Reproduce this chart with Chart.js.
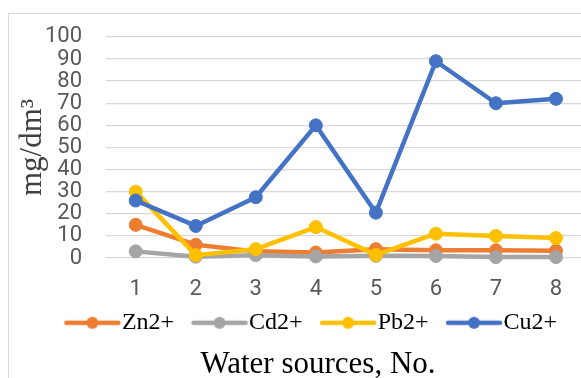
<!DOCTYPE html>
<html>
<head>
<meta charset="utf-8">
<script src="https://cdn.jsdelivr.net/npm/chart.js@4.4.1/dist/chart.umd.min.js"></script>
<style>
html,body{margin:0;padding:0;overflow:hidden;background:#fff;width:581px;height:378px}
#wrap{position:absolute;left:0;top:0;width:623px;height:383px}
</style>
</head>
<body>
<div id="wrap"><canvas id="c" width="623" height="383"></canvas></div>
<script>
// ---- data ----
const categories = ['1', '2', '3', '4', '5', '6', '7', '8'];
const seriesNames = ['Zn2+', 'Cd2+', 'Pb2+', 'Cu2+'];
const znValues = [15, 6, 3, 2.5, 4, 3.5, 3.5, 3.3];
const cdValues = [3, 0.6, 1.3, 0.7, 1, 0.9, 0.4, 0.4];
const pbValues = [30, 1.3, 4, 14, 1.4, 11, 10, 9];
const cuValues = [26, 14.5, 27.5, 60, 20.5, 89, 70, 72];
const yMin = 0, yMax = 100, yStep = 10;
const yTitle = 'mg/dm\u00B3';
const xTitle = 'Water sources, No.';

const colors = ['#ED7D31', '#A5A5A5', '#FFC000', '#4472C4'];
const seriesValues = [znValues, cdValues, pbValues, cuValues];

function legendIcon(color) {
  const c = document.createElement('canvas');
  c.width = 64; c.height = 16;
  const g = c.getContext('2d');
  g.strokeStyle = color; g.lineWidth = 4.5; g.lineCap = 'round';
  g.beginPath(); g.moveTo(4, 8); g.lineTo(56, 8); g.stroke();
  g.fillStyle = color;
  g.beginPath(); g.arc(30, 8, 6, 0, Math.PI * 2); g.fill();
  return c;
}
const icons = colors.map(legendIcon);

const tickFont = {family: "Roboto, 'DejaVu Sans Condensed', sans-serif", size: 22};
const serif = "'Liberation Serif', 'Times New Roman', serif";

const borderPlugin = {
  id: 'outerBorder',
  beforeDraw(chart) {
    const ctx = chart.ctx;
    ctx.save();
    ctx.strokeStyle = '#d9d9d9';
    ctx.lineWidth = 1;
    ctx.strokeRect(8.5, 13.5, 800, 600);
    ctx.restore();
  }
};

new Chart(document.getElementById('c'), {
  type: 'line',
  data: {
    labels: categories,
    datasets: seriesNames.map((name, i) => ({
      label: name,
      data: seriesValues[i],
      borderColor: colors[i],
      backgroundColor: colors[i],
      pointBackgroundColor: colors[i],
      pointBorderColor: colors[i],
      borderWidth: 4.5,
      pointRadius: 6.5,
      pointBorderWidth: 1,
      borderJoinStyle: 'round',
      borderCapStyle: 'round',
      tension: 0,
      fill: false,
      clip: false,
      order: seriesNames.length - i
    }))
  },
  options: {
    responsive: false,
    devicePixelRatio: 1,
    animation: false,
    layout: {autoPadding: false, padding: {top: 35.1, left: 13, right: 0, bottom: 0}},
    scales: {
      x: {
        type: 'category',
        offset: true,
        grid: {display: false, drawTicks: false},
        border: {display: false},
        ticks: {color: '#595959', font: tickFont, mirror: true, padding: -44.5, maxRotation: 0, autoSkip: false},
        afterFit(s) { s.height = 20.8; }
      },
      y: {
        type: 'linear',
        position: 'left',
        min: yMin, max: yMax,
        grid: {color: '#d9d9d9', lineWidth: 1.3, drawTicks: false},
        border: {display: false},
        ticks: {stepSize: yStep, autoSkip: false, color: '#595959', font: tickFont, padding: 23.7},
        title: {display: true, text: yTitle, color: '#404040', font: {family: serif, size: 31}, padding: {top: 0.9, bottom: 0}},
        afterFit(s) { s.width = 92.7; }
      },
      yR: {
        type: 'linear',
        position: 'right',
        display: true,
        grid: {display: false},
        border: {display: false},
        ticks: {display: false},
        afterFit(s) { s.width = 37; }
      }
    },
    plugins: {
      legend: {
        position: 'bottom',
        align: 'center',
        labels: {
          usePointStyle: true,
          pointStyleWidth: 31,
          padding: 32,
          color: '#000',
          font: {family: serif, size: 24},
          sort: (a, b) => a.datasetIndex - b.datasetIndex,
          generateLabels(chart) {
            const items = Chart.defaults.plugins.legend.labels.generateLabels(chart);
            items.forEach(it => { it.pointStyle = icons[it.datasetIndex]; });
            return items;
          }
        }
      },
      title: {
        display: true,
        position: 'bottom',
        text: xTitle,
        color: '#000',
        font: {family: serif, size: 31, weight: 'normal'},
        padding: {top: 1, bottom: 0}
      },
      tooltip: {enabled: false}
    }
  },
  plugins: [borderPlugin]
});
</script>
</body>
</html>
